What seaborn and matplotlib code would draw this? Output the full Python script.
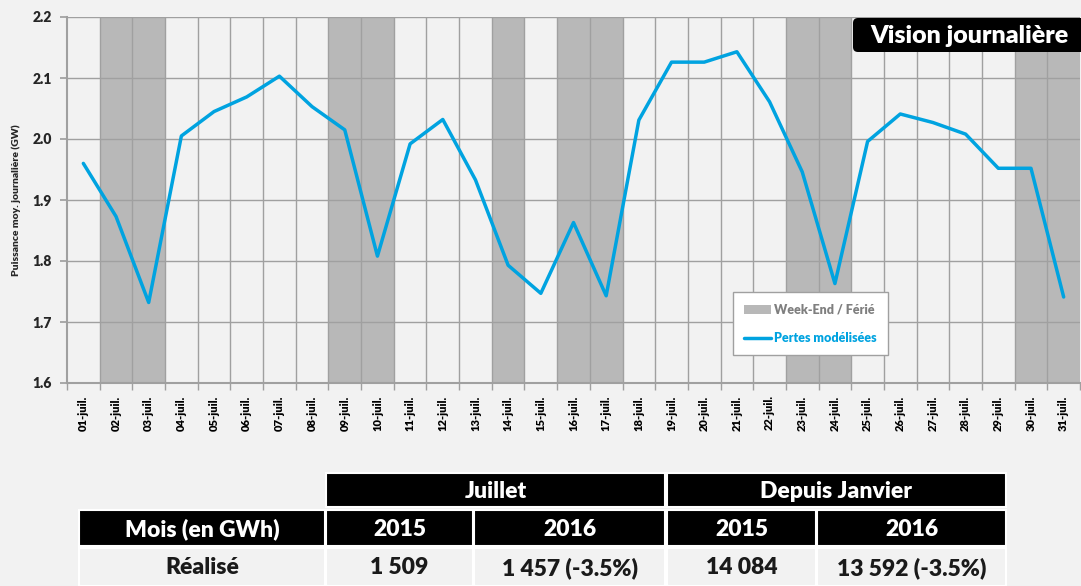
import numpy as np
import pandas as pd
import matplotlib
matplotlib.use("Agg")
import matplotlib.pyplot as plt
import seaborn as sns
from matplotlib.patches import Patch, Rectangle, FancyBboxPatch
from matplotlib.lines import Line2D

# Data
days = [f"{d:02d}-juil." for d in range(1, 32)]
pertes = [1.960, 1.873, 1.732, 2.005, 2.045, 2.069, 2.103, 2.053, 2.015, 1.808,
          1.992, 2.032, 1.933, 1.793, 1.747, 1.863, 1.743, 2.031, 2.126, 2.126,
          2.143, 2.061, 1.946, 1.763, 1.996, 2.041, 2.027, 2.008, 1.952, 1.952,
          1.741]
weekend_days = [2, 3, 9, 10, 14, 16, 17, 23, 24, 30, 31]

table_groups = ["Juillet", "Depuis Janvier"]
table_header = ["Mois (en GWh)", "2015", "2016", "2015", "2016"]
table_row = ["Réalisé", "1 509", "1 457 (-3.5%)", "14 084", "13 592 (-3.5%)"]

df = pd.DataFrame({"pos": np.arange(len(days)), "day": days, "pertes": pertes})

bg = "#f2f2f2"
blue = "#00a3e0"
band = "#b8b8b8"
gridc = "#a0a0a0"
W8 = "heavy"

sns.set_theme(style="white")
plt.rcParams["font.family"] = ["Lato", "DejaVu Sans"]
plt.rcParams["font.weight"] = "bold"

W, H = 1081, 586
fig = plt.figure(figsize=(W / 100, H / 100), dpi=100, facecolor=bg)

# Table drawn in pixel coordinates on a background axes
tax = fig.add_axes([0, 0, 1, 1], zorder=0)
tax.set_xlim(0, W)
tax.set_ylim(H, 0)
tax.axis("off")

def cell(x0, x1, y0, y1, txt, dark):
    tax.add_patch(Rectangle((x0, y0), x1 - x0, y1 - y0,
                            facecolor="black" if dark else bg,
                            edgecolor="white", linewidth=1.5))
    tax.text((x0 + x1) / 2, (y0 + y1) / 2 + 1, txt, ha="center", va="center",
             fontsize=16.5, fontweight=W8,
             color="white" if dark else "#1a1a1a")

group_x = [(326, 665), (667, 1006)]
col_x = [(79, 325), (326, 473), (474, 665), (667, 816), (817, 1006)]
for (x0, x1), g in zip(group_x, table_groups):
    cell(x0, x1, 473, 507, g, True)
for (x0, x1), h in zip(col_x, table_header):
    cell(x0, x1, 510, 546, h, True)
for (x0, x1), v in zip(col_x, table_row):
    cell(x0, x1, 548, 586, v, False)

# Main chart
left, top, right, bottom = 67, 17, 1080, 383
ax = fig.add_axes([left / W, 1 - bottom / H, (right - left) / W, (bottom - top) / H], zorder=1)
ax.set_facecolor(bg)

for d in weekend_days:
    ax.axvspan(d - 1.5, d - 0.5, color=band, lw=0, zorder=0)

for y in np.arange(1.7, 2.21, 0.1):
    ax.axhline(y, color=gridc, lw=1, zorder=1)
for x in np.arange(0.5, len(days) - 0.5, 1):
    ax.axvline(x, color=gridc, lw=1, zorder=1)

sns.lineplot(data=df, x="pos", y="pertes", color=blue, linewidth=2.5, ax=ax, zorder=3)

ax.set_xlim(-0.5, len(days) - 0.5)
ax.set_ylim(1.6, 2.2)
ax.set_yticks(np.arange(1.6, 2.21, 0.1))
ax.set_yticklabels([f"{v:.1f}" for v in np.arange(1.6, 2.21, 0.1)], fontsize=10, fontweight=W8)
ax.set_xticks(df["pos"])
ax.set_xticklabels(days, rotation=90, fontsize=8, fontweight=W8)
ax.set_xticks(np.arange(-0.5, len(days), 1), minor=True)
ax.tick_params(axis="x", which="major", length=0, pad=9, colors="black")
ax.tick_params(axis="x", which="minor", length=5, color=gridc, direction="out", bottom=True)
ax.tick_params(axis="y", length=5, color=gridc, direction="out", left=True, pad=6)
ax.set_xlabel("")
ax.set_ylabel("Puissance moy. journalière (GW)", fontsize=7.5, fontweight=W8, labelpad=8)

for s in ["top", "right"]:
    ax.spines[s].set_visible(False)
for s in ["left", "bottom"]:
    ax.spines[s].set_color(gridc)
    ax.spines[s].set_linewidth(1.5)

handles = [Patch(facecolor=band, edgecolor="none"),
           Line2D([0], [0], color=blue, lw=2.5)]
leg = ax.legend(handles, ["Week-End / Férié", "Pertes modélisées"],
                loc="lower left", bbox_to_anchor=(0.657, 0.076),
                fontsize=9, frameon=True, fancybox=False, labelspacing=1.3,
                handlelength=2.2, handletextpad=0.2, borderpad=0.9, borderaxespad=0)
leg.get_frame().set_edgecolor("#a0a0a0")
leg.get_frame().set_facecolor("white")
leg.get_frame().set_alpha(1)
leg.texts[0].set_color("#7f7f7f")
leg.texts[1].set_color(blue)
for t in leg.texts:
    t.set_fontweight(W8)

# Title box
tb = FancyBboxPatch((853, 18), 260, 34, boxstyle="round,pad=0,rounding_size=5",
                    facecolor="black", edgecolor="none", transform=tax.transData)
fig.add_artist(tb)
tb.set_zorder(5)
fig.text(969 / W, 1 - 36 / H, "Vision journalière", ha="center", va="center",
         color="white", fontsize=18, fontweight=W8, zorder=6)

fig.savefig("out.png", dpi=100, facecolor=bg)
